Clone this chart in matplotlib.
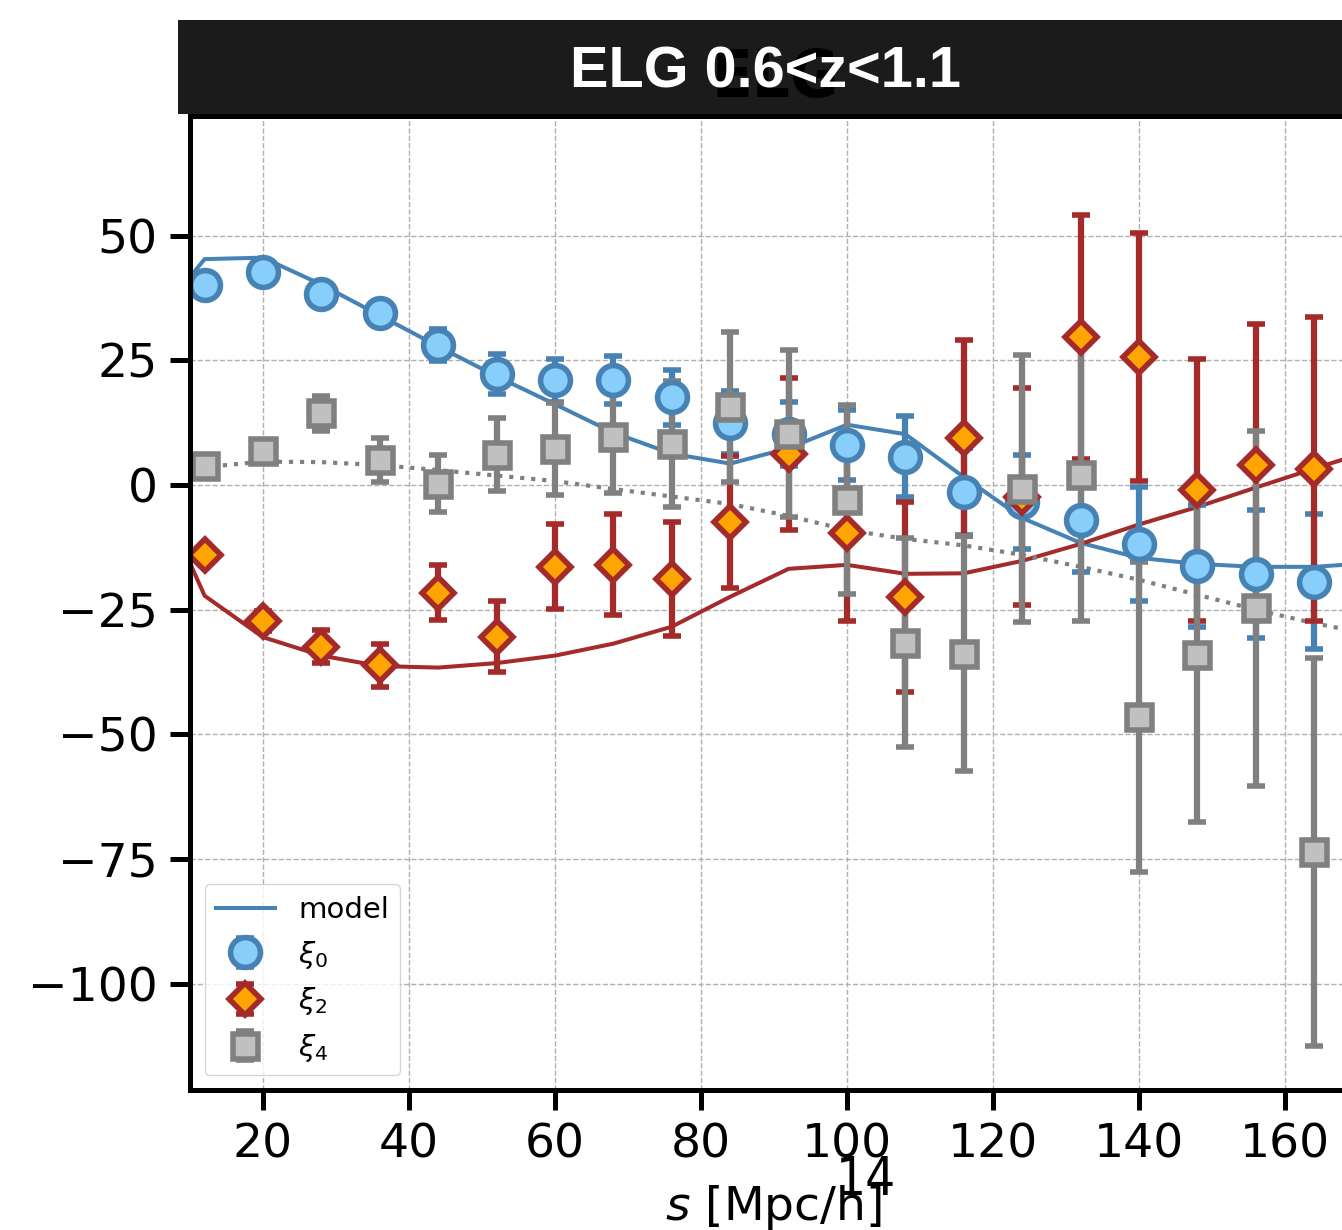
import matplotlib
matplotlib.use('Agg')
import matplotlib.pyplot as plt
from matplotlib import font_manager
from matplotlib.patches import Rectangle

# separation bins [Mpc/h]
s = [12, 20, 28, 36, 44, 52, 60, 68, 76, 84, 92, 100, 108, 116, 124, 132, 140, 148, 156, 164]

# measured multipoles (s^2 xi_l) and 1-sigma errors
xi0 = [40.1, 42.8, 38.3, 34.4, 28.1, 22.3, 21.0, 21.0, 17.6, 12.5, 10.3, 8.1, 5.7, -1.3,
       -3.4, -7.0, -11.8, -16.2, -17.8, -19.4]
xi0_err = [1.8, 2.0, 2.2, 2.6, 3.2, 4.0, 4.3, 4.8, 5.5, 6.3, 6.4, 7.0, 8.1, 8.8,
           9.5, 10.4, 11.5, 12.2, 12.8, 13.5]

xi2 = [-14.0, -27.3, -32.4, -36.1, -21.6, -30.4, -16.4, -16.0, -18.9, -7.4, 6.2, -9.7, -22.4, 9.4,
       -2.3, 29.7, 25.7, -1.0, 4.0, 3.2]
xi2_err = [1.5, 2.0, 3.3, 4.3, 5.5, 7.1, 8.5, 10.1, 11.4, 13.3, 15.3, 17.5, 19.1, 19.7,
           21.7, 24.4, 24.8, 26.3, 28.2, 30.4]

xi4 = [3.8, 6.9, 14.4, 5.1, 0.3, 6.1, 7.3, 9.7, 8.2, 15.6, 10.3, -2.9, -31.6, -33.8,
       -0.7, 2.0, -46.5, -34.1, -24.7, -73.5]
xi4_err = [1.2, 1.5, 3.5, 4.4, 5.8, 7.3, 9.2, 11.2, 12.6, 15.0, 16.8, 18.9, 20.9, 23.5,
           26.7, 29.3, 31.0, 33.5, 35.6, 38.9]

# best-fit model on a grid that runs past the plotted range
s_model = [4, 12, 20, 28, 36, 44, 52, 60, 68, 76, 84, 92, 100, 108, 116, 124, 132, 140,
           148, 156, 164, 172]
model0 = [31.0, 45.3, 45.6, 40.2, 34.0, 27.8, 21.8, 16.2, 10.5, 6.3, 4.3, 7.4, 12.1, 10.2,
          1.6, -6.6, -11.6, -14.6, -15.8, -16.4, -16.4, -15.6]
model2 = [4.0, -22.2, -30.5, -34.2, -36.3, -36.6, -35.7, -34.2, -31.8, -28.4, -22.4, -16.8,
          -16.0, -17.8, -17.7, -15.2, -11.8, -7.9, -4.4, -0.5, 3.3, 7.0]
model4 = [2.0, 3.6, 4.7, 4.6, 4.0, 3.0, 1.9, 0.8, -0.8, -2.3, -3.8, -6.2, -9.0, -10.8,
          -12.1, -14.0, -16.4, -19.0, -22.0, -25.0, -27.7, -30.0]


def narrow_family():
    # prefer a narrow sans for the overprinted labels, else a condensed DejaVu
    for fam in ['Liberation Sans Narrow', 'Arial Narrow']:
        try:
            font_manager.findfont(fam, fallback_to_default=False)
            return fam, 1.0
        except ValueError:
            pass
    return 'DejaVu Sans', 0.9


W, H = 1342, 1230
fig = plt.figure(figsize=(W / 100, H / 100), dpi=100)
ax = fig.add_axes([190 / W, 140 / H, 1168 / W, 974 / H])

# model curves
l0, = ax.plot(s_model, model0, color='steelblue', lw=2.9, label='model')
ax.plot(s_model, model2, color='brown', lw=2.9)
ax.plot(s_model, model4, color='gray', lw=3, ls=':')

ebkw = dict(elinewidth=4.5, capsize=6.4, capthick=3.6, ls='none', mew=4)
eb0 = ax.errorbar(s, xi0, yerr=xi0_err, fmt='o', color='steelblue', mfc='lightskyblue',
                  mec='steelblue', ms=21.5, **ebkw)
eb2 = ax.errorbar(s, xi2, yerr=xi2_err, fmt='D', color='brown', mfc='orange',
                  mec='brown', ms=16, **ebkw)
eb4 = ax.errorbar(s, xi4, yerr=xi4_err, fmt='s', color='gray', mfc='silver',
                  mec='gray', ms=18, **ebkw)

ax.set_xlim(10, 170)
ax.set_ylim(-121.3, 74)
ax.set_xticks([20, 40, 60, 80, 100, 120, 140, 160])
ax.set_yticks([-100, -75, -50, -25, 0, 25, 50])
ax.grid(True, ls='--', color='#b0b0b0', lw=1)
ax.set_axisbelow(True)
ax.tick_params(labelsize=34, length=14.4, width=3.6, pad=9)
for sp in ax.spines.values():
    sp.set_linewidth(3.6)
ax.set_xlabel('$s$ [Mpc/h]', fontsize=34, labelpad=11)

ax.legend([l0, eb0, eb2, eb4], ['model', r'$\xi_0$', r'$\xi_2$', r'$\xi_4$'],
          loc='lower left', fontsize=21)

nfam, nscale = narrow_family()

# dark header band above the panel
fig.add_artist(Rectangle((178 / W, 1 - 114 / H), 1200 / W, 94 / H, transform=fig.transFigure,
                         facecolor='#1b1b1b', edgecolor='none', zorder=5))
fig.text(775 / W, 1 - 97 / H, 'ELG', ha='center', va='baseline', fontsize=53 * nscale,
         weight='bold', family=nfam, stretch='condensed', color='black', zorder=6)
fig.text(765 / W, 1 - 88 / H, 'ELG 0.6<z<1.1', ha='center', va='baseline', fontsize=41.5,
         weight='bold', family=['Liberation Sans', 'DejaVu Sans'], color='white', zorder=7)
fig.text(866 / W, 1 - 1195 / H, '14', ha='center', va='baseline', fontsize=42 * nscale,
         family=nfam, stretch='condensed', color='black')

fig.savefig('out.png', dpi=100)
